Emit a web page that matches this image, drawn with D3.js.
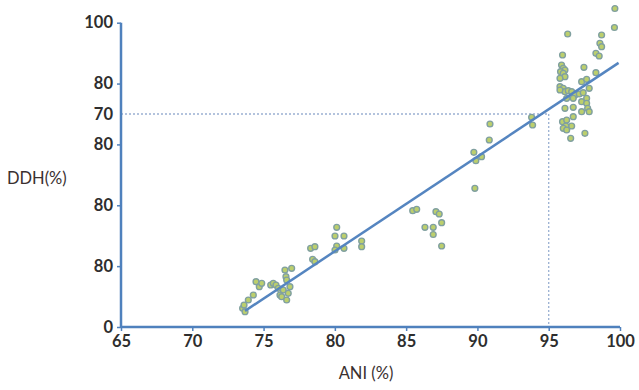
<!DOCTYPE html>
<html>
<head>
<meta charset="utf-8">
<script src="https://cdn.jsdelivr.net/npm/d3@7"></script>
<style>
  html, body { margin: 0; padding: 0; background: #ffffff; }
  svg { display: block; }
</style>
</head>
<body>
<svg id="chart" width="639" height="390"></svg>
<script>
// ---- data ----
const ani = [
  73.53, 73.63, 73.70, 73.93, 74.28, 74.47, 74.70, 74.87, 75.50, 75.68,
  75.87, 76.03, 76.15, 76.27, 76.38, 76.50, 76.57, 76.62, 76.73, 76.62,
  76.85, 76.97,
  78.30, 78.60, 78.44, 78.60, 80.13, 80.01, 80.64, 80.13, 80.01, 80.64,
  81.88, 81.88,
  85.46, 85.74, 86.32, 86.90, 86.90, 87.09, 87.32, 87.49, 87.49,
  89.82, 89.75, 89.89, 90.29, 90.88, 90.83, 93.80, 93.87,
  96.33, 98.71, 99.61, 99.64, 98.59, 98.71, 98.31, 98.54, 95.97, 95.90,
  96.02, 96.14, 95.83, 96.02, 96.14, 95.79, 97.47, 98.31, 97.31, 97.66,
  95.79, 96.02, 96.14, 96.37, 96.61, 95.79, 96.84, 97.14, 97.42, 97.84,
  96.26, 96.72, 97.31, 97.66, 96.14, 96.72, 97.66, 97.73, 96.72, 97.31,
  97.84, 95.97, 96.26, 96.21, 96.02, 96.61, 96.26, 97.54, 96.54
];
const ddh = [
  6.15, 7.23, 5.03, 8.87, 10.52, 14.89, 13.24, 14.36, 13.80, 14.36,
  13.80, 12.72, 10.52, 9.96, 12.16, 18.73, 16.53, 15.45, 11.07, 8.87,
  13.24, 19.29,
  25.86, 26.39, 22.25, 21.46, 32.76, 29.90, 29.90, 26.62, 25.30, 25.86,
  28.26, 26.39,
  38.22, 38.68, 32.76, 32.76, 30.40, 37.89, 37.13, 34.28, 26.62,
  45.58, 57.41, 54.65, 55.96, 66.71, 61.45, 68.91, 66.38,
  96.29, 95.96, 98.42, 104.67, 93.23, 92.11, 89.94, 89.06, 89.39, 86.10,
  85.01, 84.46, 83.90, 83.37, 82.26, 81.73, 85.34, 83.57, 80.61, 81.40,
  78.97, 78.44, 77.33, 77.65, 77.33, 77.88, 76.24, 76.57, 77.00, 78.44,
  75.16, 75.16, 74.04, 75.16, 71.87, 72.20, 73.51, 71.87, 69.11, 70.75,
  70.75, 67.47, 68.02, 66.05, 65.30, 66.05, 64.74, 63.65, 62.01
];
const fitAni = [73.7, 99.9];
const fitDdh = [5.3, 86.8];
const refAni = 95;
const refDdh = 70;
const xTicks = [65, 70, 75, 80, 85, 90, 95, 100];
const yTickValues = [0, 20, 40, 60, 70, 80, 100];
const yTickLabels = ["0", "80", "80", "80", "70", "80", "100"];
const xTitle = "ANI (%)";
const yTitle = "DDH(%)";

// ---- drawing ----
const svg = d3.select("#chart");
const x = d3.scaleLinear().domain([65, 100]).range([121, 620]);
const y = d3.scaleLinear().domain([0, 100]).range([327, 22.7]);
const axisColor = "#4f81bd";
const font = "Lato, 'Open Sans', 'Liberation Sans', sans-serif";

// reference dotted lines
svg.append("line")
  .attr("x1", x(65)).attr("x2", x(refAni))
  .attr("y1", y(refDdh)).attr("y2", y(refDdh))
  .attr("stroke", "#9ab0d2").attr("stroke-width", 1.3)
  .attr("stroke-dasharray", "2,2");
svg.append("line")
  .attr("x1", x(refAni)).attr("x2", x(refAni))
  .attr("y1", y(refDdh)).attr("y2", y(0))
  .attr("stroke", "#9ab0d2").attr("stroke-width", 1.3)
  .attr("stroke-dasharray", "2,2");

// axes
const xAxis = d3.axisBottom(x).tickValues(xTicks).tickSize(4).tickPadding(4)
  .tickFormat(d3.format("d"));
const gx = svg.append("g").attr("transform", `translate(0,${y(0)})`).call(xAxis);
gx.select(".domain").attr("stroke", axisColor).attr("stroke-width", 2.5).attr("d", `M${x(65)},0H${x(100)}`);
gx.selectAll(".tick line").attr("stroke", axisColor).attr("stroke-width", 1.5);
gx.selectAll(".tick text").attr("font-family", font).attr("font-size", 16.5)
  .attr("font-weight", 700).attr("fill", "#2e2e2e");

const yAxis = d3.axisLeft(y).tickValues(yTickValues).tickSize(4).tickPadding(4)
  .tickFormat((d, i) => yTickLabels[i]);
const gy = svg.append("g").attr("transform", `translate(${x(65)},0)`).call(yAxis);
gy.select(".domain").attr("stroke", axisColor).attr("stroke-width", 2.5).attr("d", `M0,${y(0)}V${y(100)}`);
gy.selectAll(".tick line").attr("stroke", axisColor).attr("stroke-width", 1.5)
  .attr("opacity", d => d === refDdh ? 0 : 1);
gy.selectAll(".tick text").attr("font-family", font).attr("font-size", 16.5)
  .attr("font-weight", 700).attr("fill", "#2e2e2e");

// titles
svg.append("text").attr("x", 366).attr("y", 379).attr("text-anchor", "middle")
  .attr("font-family", font).attr("font-size", 16.5).attr("fill", "#3a3030").text(xTitle);
svg.append("text").attr("x", 7).attr("y", 184)
  .attr("font-family", font).attr("font-size", 16.5).attr("fill", "#3a3030").text(yTitle);

// points
const pts = ani.map((a, i) => ({ a, d: ddh[i] }));
svg.append("g").selectAll("circle").data(pts).join("circle")
  .attr("cx", p => x(p.a)).attr("cy", p => y(p.d)).attr("r", 2.9)
  .attr("fill", "#bccf6c").attr("stroke", "#80a0a0").attr("stroke-width", 1.4);

// regression line
svg.append("line")
  .attr("x1", x(fitAni[0])).attr("y1", y(fitDdh[0]))
  .attr("x2", x(fitAni[1])).attr("y2", y(fitDdh[1]))
  .attr("stroke", "#5585c0").attr("stroke-width", 2.5);
</script>
</body>
</html>
